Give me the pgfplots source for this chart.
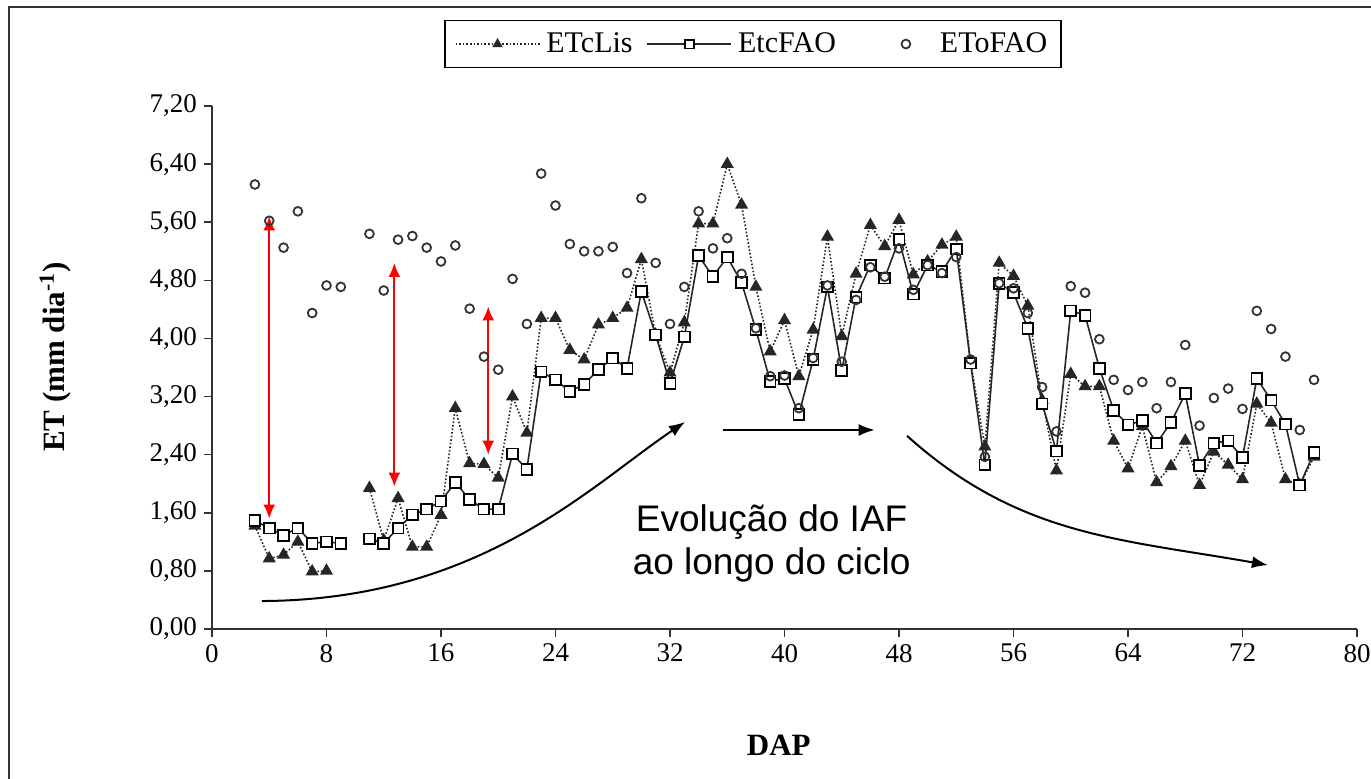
\documentclass[border=0pt]{standalone}
\usepackage{fontspec}
\setmainfont{Liberation Serif}
\newfontfamily\arialfont{Liberation Sans}
\usepackage{pgfplots}
\usepackage{pgfplotstable}
\pgfplotsset{compat=1.18}
\usetikzlibrary{arrows.meta}

\pgfplotsset{
  circlegend/.style={legend image code/.code={\path[draw=none] (0pt,0pt) -- (42pt,0pt);
    \draw[##1, mark size=2.2pt] plot coordinates {(28pt,0pt)};}},
}

% ETcLis (triangles), EtcFAO (squares), EToFAO (circles)
\pgfplotstableread{
dap lis fao
3 1.42 1.49
4 0.97 1.39
5 1.02 1.29
6 1.20 1.39
7 0.79 1.18
8 0.80 1.20
9 nan 1.18
10 nan nan
11 1.94 1.24
12 1.22 1.18
13 1.80 1.39
14 1.13 1.57
15 1.13 1.65
16 1.57 1.76
17 3.04 2.02
18 2.28 1.78
19 2.27 1.65
20 2.08 1.65
21 3.20 2.41
22 2.70 2.20
23 4.28 3.54
24 4.28 3.43
25 3.84 3.27
26 3.71 3.37
27 4.19 3.57
28 4.28 3.73
29 4.42 3.59
30 5.09 4.65
31 4.05 4.05
32 3.53 3.38
33 4.22 4.02
34 5.58 5.14
35 5.58 4.85
36 6.40 5.12
37 5.84 4.77
38 4.71 4.12
39 3.82 3.41
40 4.25 3.45
41 3.48 2.95
42 4.12 3.71
43 5.40 4.71
44 4.03 3.56
45 4.89 4.57
46 5.56 5.01
47 5.27 4.83
48 5.63 5.36
49 4.88 4.61
50 5.06 5.01
51 5.29 4.92
52 5.40 5.23
53 3.68 3.66
54 2.51 2.26
55 5.04 4.76
56 4.86 4.63
57 4.45 4.14
58 3.15 3.10
59 2.18 2.45
60 3.51 4.38
61 3.34 4.32
62 3.34 3.59
63 2.59 3.01
64 2.21 2.81
65 2.79 2.87
66 2.02 2.56
67 2.24 2.84
68 2.59 3.24
69 1.98 2.25
70 2.44 2.56
71 2.26 2.59
72 2.06 2.36
73 3.10 3.45
74 2.84 3.15
75 2.06 2.82
76 1.98 1.98
77 2.37 2.43
}\etdata

\pgfplotstableread{
dap eto
3 6.12
4 5.62
5 5.25
6 5.75
7 4.35
8 4.73
9 4.71
11 5.44
12 4.66
13 5.36
14 5.41
15 5.25
16 5.06
17 5.28
18 4.41
19 3.75
20 3.57
21 4.82
22 4.20
23 6.27
24 5.83
25 5.30
26 5.20
27 5.20
28 5.26
29 4.90
30 5.93
31 5.04
32 4.20
33 4.71
34 5.75
35 5.24
36 5.38
37 4.89
38 4.14
39 3.48
40 3.49
41 3.04
42 3.73
43 4.73
44 3.68
45 4.53
46 4.98
47 4.85
48 5.24
49 4.67
50 5.01
51 4.90
52 5.12
53 3.71
54 2.37
55 4.76
56 4.69
57 4.35
58 3.33
59 2.72
60 4.72
61 4.63
62 3.99
63 3.43
64 3.29
65 3.40
66 3.04
67 3.40
68 3.91
69 2.80
70 3.18
71 3.31
72 3.03
73 4.38
74 4.13
75 3.75
76 2.74
77 3.43
}\etodata

\begin{document}
\begin{tikzpicture}
\begin{axis}[
  scale only axis, width=572.5pt, height=261.5pt,
  xmin=0, xmax=80, ymin=0, ymax=7.2,
  axis x line=bottom, axis y line=left,
  axis line style={-, line width=0.9pt, black!80},
  xtick={0,8,...,80},
  ytick={0,0.8,1.6,2.4,3.2,4.0,4.8,5.6,6.4,7.2},
  tick align=outside, major tick length=4pt,
  tick style={line width=0.8pt, black!80},
  /pgf/number format/assume math mode=true,
  tick label style={font=\fontsize{13.5}{15}\selectfont},
  yticklabel style={/pgf/number format/.cd, fixed, fixed zerofill, precision=2, use comma},
  xlabel={\textbf{DAP}},
  ylabel={\textbf{ET (mm dia\textsuperscript{-1})}},
  label style={font=\fontsize{15.5}{17}\selectfont},
  x label style={at={(axis description cs:0.495,-0.222)}, anchor=center},
  y label style={at={(axis description cs:-0.137,0.52)}, anchor=center},
  unbounded coords=jump,
  clip=false,
  legend columns=3,
  legend style={at={(axis description cs:0.4725,1.1185)}, anchor=center,
    draw=black, line width=0.8pt, font=\fontsize{15}{17}\selectfont,
    inner ysep=4pt, inner xsep=5pt,
    /tikz/every odd column/.append style={column sep=1pt},
    /tikz/every even column/.append style={column sep=5pt}},
  legend image code/.code={\draw[mark repeat=2,mark phase=2,mark size=2.2pt,#1]
    plot coordinates {(0pt,0pt)(21pt,0pt)(42pt,0pt)};},
]
\addplot[black!85, line width=0.8pt, densely dotted,
  mark=triangle*, mark size=3pt, mark options={solid, fill=black!85}]
  table[x=dap, y=lis] {\etdata};
\addlegendentry{ETcLis}
\addplot[black!85, line width=0.8pt,
  mark=square*, mark size=2.7pt, mark options={solid, fill=white, draw=black, line width=0.9pt}]
  table[x=dap, y=fao] {\etdata};
\addlegendentry{EtcFAO}
\addplot[only marks, mark=o, mark size=2.2pt,
  mark options={draw=black!80, fill=white, line width=0.9pt}, circlegend]
  table[x=dap, y=eto] {\etodata};
\addlegendentry{EToFAO}

% red double arrows
\draw[red, line width=1.1pt, {Latex[length=7pt,width=6pt]}-{Latex[length=7pt,width=6pt]}]
  (axis cs:4.0,1.52) -- (axis cs:4.0,5.68);
\draw[red, line width=1.1pt, {Latex[length=7pt,width=6pt]}-{Latex[length=7pt,width=6pt]}]
  (axis cs:12.74,1.96) -- (axis cs:12.74,5.04);
\draw[red, line width=1.1pt, {Latex[length=7pt,width=6pt]}-{Latex[length=7pt,width=6pt]}]
  (axis cs:19.3,2.40) -- (axis cs:19.3,4.44);

% black arrows
\draw[black, line width=1pt, -{Latex[length=8pt,width=6pt]}]
  (axis cs:3.49,0.385) .. controls (axis cs:18.72,0.40) and (axis cs:26.41,1.97)
  .. (axis cs:33.05,2.85);
\draw[black, line width=1pt, -{Latex[length=8pt,width=6pt]}]
  (axis cs:35.7,2.74) -- (axis cs:46.3,2.74);
\draw[black, line width=1pt, -{Latex[length=8pt,width=6pt]}]
  (axis cs:48.56,2.66) to[out=-42,in=170] (axis cs:73.78,0.88);

\node[align=center, font=\arialfont\fontsize{18.5}{21.5}\selectfont]
  at (axis cs:39.1,1.18) {Evolução do IAF\\ao longo do ciclo};
\end{axis}

% outer frame (top and left edges visible)
\draw[black!80, line width=1.3pt] (-101.5pt,-80pt) -- (-101.5pt,311pt) -- (585pt,311pt);
\pgfresetboundingbox
\path[use as bounding box] (-106pt,-74.5pt) rectangle (579.5pt,314.5pt);
\end{tikzpicture}
\end{document}
